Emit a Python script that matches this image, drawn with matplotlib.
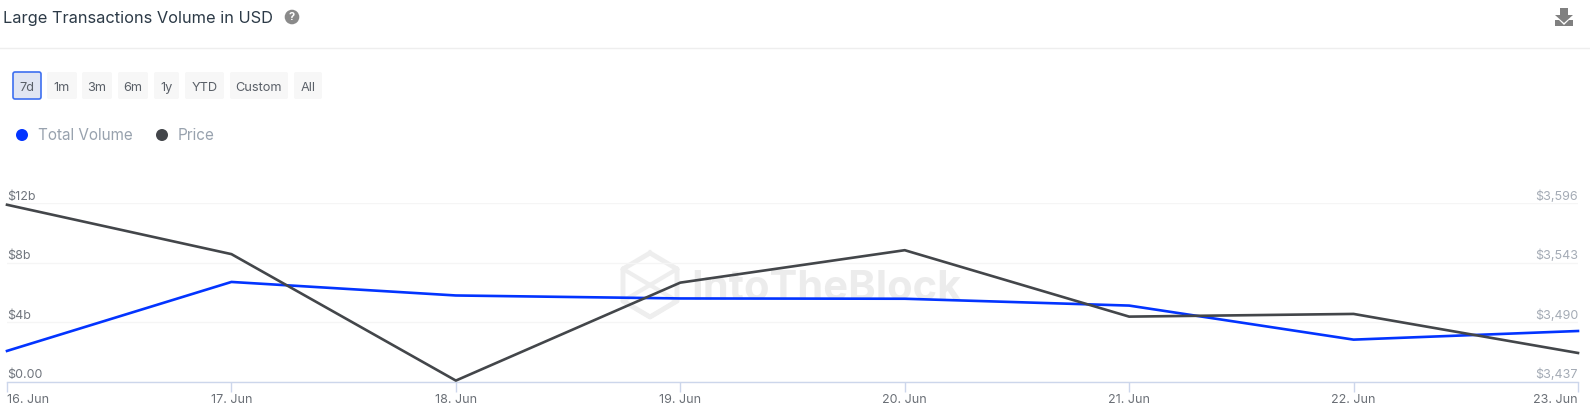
"""Large transactions volume chart, IntoTheBlock style."""

import matplotlib

matplotlib.use("Agg")
import matplotlib.pyplot as plt
from matplotlib.patches import Circle, FancyBboxPatch, Polygon

plt.rcParams["font.family"] = ["Inter", "DejaVu Sans"]

W, H = 1590, 417

days = ["16. Jun", "17. Jun", "18. Jun", "19. Jun", "20. Jun", "21. Jun", "22. Jun", "23. Jun"]
total_volume = [2.07, 6.71, 5.8, 5.6, 5.58, 5.12, 2.83, 3.41]  # billions USD
price = [3594.7, 3550.7, 3438, 3525.3, 3554.2, 3495, 3497.4, 3462.6]

left_ticks = [0, 4, 8, 12]
left_labels = ["$0.00", "$4b", "$8b", "$12b"]
right_ticks = [3437, 3490, 3543, 3596]
right_labels = ["$3,437", "$3,490", "$3,543", "$3,596"]

buttons = ["7d", "1m", "3m", "6m", "1y", "YTD", "Custom", "All"]
button_edges = [(13, 41), (47, 77), (82, 112), (118, 148), (154, 179), (185, 224), (230, 288), (294, 322)]

BLUE = "#0334ff"
DARK = "#43464a"

fig = plt.figure(figsize=(W / 100, H / 100), dpi=100)

# page furniture is drawn in pixel coordinates on a full-figure axes
page = fig.add_axes([0, 0, 1, 1], zorder=0)
page.set_xlim(0, W)
page.set_ylim(H, 0)
page.axis("off")

page.text(3, 18, "Large Transactions Volume in USD", fontsize=11.8, color="#2c3a47", va="center")
page.add_patch(Circle((292, 17), 7.3, color="#8a8a8a", lw=0))
page.text(292, 17.3, "?", fontsize=8, color="white", ha="center", va="center", weight="bold")
page.plot([0, W], [48, 48], color="#eeeeee", lw=1)

# download icon
page.add_patch(Polygon([(1560, 8), (1568, 8), (1568, 15), (1573, 15), (1564, 23), (1555, 15), (1560, 15)],
                       color="#808080", lw=0))
page.add_patch(Polygon([(1555, 20), (1559, 20), (1564, 25), (1569, 20), (1573, 20), (1573, 26), (1555, 26)],
                       color="#808080", lw=0))

for label, (x0, x1) in zip(buttons, button_edges):
    active = label == "7d"
    page.add_patch(FancyBboxPatch((x0 + 2, 74), x1 - x0 - 4, 23, boxstyle="round,pad=2",
                                  facecolor="#e0e5f2" if active else "#f7f7f7",
                                  edgecolor="#3d6ff0" if active else "#f7f7f7",
                                  lw=1.2 if active else 0))
    page.text((x0 + x1) / 2, 87.5, label, fontsize=9.2, color="#5a6068", ha="center", va="center")

page.add_patch(Circle((22, 135), 6, color=BLUE, lw=0))
page.text(38, 135.5, "Total Volume", fontsize=11, color="#98a2ae", va="center")
page.add_patch(Circle((162, 135), 6, color=DARK, lw=0))
page.text(178, 135.5, "Price", fontsize=11, color="#98a2ae", va="center")

# watermark
page.plot([650, 677, 677, 650, 623, 623, 650], [253, 269, 301, 317, 301, 269, 253],
          color="#eeeeee", lw=3.5, zorder=1)
page.plot([623, 677, 650, 623, 650, 677], [269, 301, 317, 301, 285, 269], color="#eeeeee", lw=3, zorder=1)
page.text(691, 289, "IntoTheBlock", fontsize=30, weight="bold", color="#ececec", va="center", zorder=1)

# chart axes
px0, px1, py_top, py_bot = 7, 1578, 203.3, 381.7
ax = fig.add_axes([px0 / W, 1 - py_bot / H, (px1 - px0) / W, (py_bot - py_top) / H], zorder=2)
ax.patch.set_alpha(0)
ax.set_xlim(0, len(days) - 1)
ax.set_ylim(left_ticks[0], left_ticks[-1])
ax.set_yticks(left_ticks)
ax.set_yticklabels([])
ax.tick_params(axis="y", length=0)
ax.grid(axis="y", color="#f5f5f5", lw=1)
ax.set_axisbelow(True)
for side in ["top", "left", "right"]:
    ax.spines[side].set_visible(False)
ax.spines["bottom"].set_color("#ccd6eb")
ax.spines["bottom"].set_linewidth(1)

ax.set_xticks(range(len(days)))
ax.set_xticklabels(days, fontsize=9, color="#6a6f76")
ax.tick_params(axis="x", length=7.5, width=1, color="#ccd6eb", pad=1.5)
tick_labels = ax.get_xticklabels()
tick_labels[0].set_ha("left")
tick_labels[-1].set_ha("right")

ax2 = ax.twinx()
ax2.set_ylim(right_ticks[0], right_ticks[-1])
ax2.set_yticks([])
for side in ax2.spines:
    ax2.spines[side].set_visible(False)

ax.plot(range(len(days)), total_volume, color=BLUE, lw=1.9, zorder=3, clip_on=False)
ax2.plot(range(len(days)), price, color=DARK, lw=1.9, zorder=4, clip_on=False)

for value, label in zip(left_ticks, left_labels):
    ax.annotate(label, (0, value), xytext=(0, 0.3), textcoords="offset points",
                fontsize=9, color="#70757d", ha="left", va="bottom")
for value, label in zip(right_ticks, right_labels):
    ax2.annotate(label, (len(days) - 1, value), xytext=(0, 0.3), textcoords="offset points",
                 fontsize=9, color="#a4abb5", ha="right", va="bottom")

fig.savefig("out.png", dpi=100)
